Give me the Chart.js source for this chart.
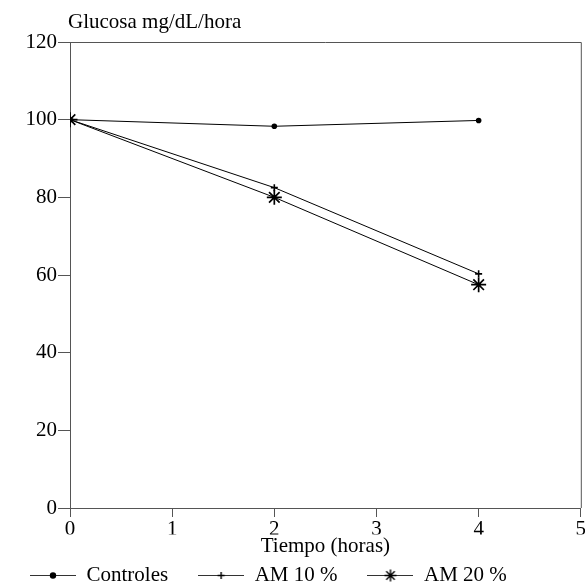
<!DOCTYPE html>
<html lang="es">
<head>
    <meta charset="UTF-8">
    <title>Glucosa mg/dL/hora</title>
    <script src="https://cdn.jsdelivr.net/npm/chart.js"></script>
    <style>
        body, html {
            margin: 0;
            padding: 0;
            width: 585px;
            height: 588px;
            overflow: hidden;
            background: #fff;
        }
        /* slightly wider than the window so the "5" gets cut like in the original */
        #wrap { width: 590px; height: 588px; }
    </style>
</head>
<body>
    <div id="wrap"><canvas id="glucosaChart"></canvas></div>

    <script>
        const horas = [0, 2, 4];
        const controles = [100, 98.3, 99.8];
        const am10 = [100, 82.5, 60.3];
        const am20 = [100, 80, 57.5];
        const seriesNames = ['Controles', 'AM 10 %', 'AM 20 %'];
        const yTitle = 'Glucosa mg/dL/hora';
        const xTitle = 'Tiempo (horas)';

        const FONT = "'Liberation Serif', 'DejaVu Serif', serif";

        // legend symbol: short line with the marker in the middle
        function legendSymbol(style, r) {
            const c = document.createElement('canvas');
            c.width = 46; c.height = 16;
            const g = c.getContext('2d');
            g.strokeStyle = '#333';
            g.fillStyle = '#000';
            g.lineWidth = 1;
            g.beginPath(); g.moveTo(0, 8.5); g.lineTo(46, 8.5); g.stroke();
            g.lineWidth = 1.4;
            g.strokeStyle = '#000';
            Chart.helpers.drawPoint(g, { pointStyle: style, radius: r, borderWidth: 1.4 }, 23, 8.5);
            return c;
        }

        const framePlugin = {
            id: 'frame',
            afterDraw(chart) {
                const { ctx, chartArea: a } = chart;
                ctx.save();
                ctx.strokeStyle = '#555';
                ctx.lineWidth = 1;
                ctx.beginPath();
                ctx.moveTo(a.left, a.top + 0.5);
                ctx.lineTo(a.right + 0.5, a.top + 0.5);
                ctx.lineTo(a.right + 0.5, a.bottom);
                ctx.stroke();
                ctx.fillStyle = '#000';
                ctx.font = '21px ' + FONT;
                ctx.textBaseline = 'alphabetic';
                ctx.fillText(yTitle, a.left - 2, a.top - 14);
                ctx.restore();
            }
        };

        const lineStyle = { borderColor: '#000', backgroundColor: '#000', borderWidth: 1, tension: 0 };

        const ctx = document.getElementById('glucosaChart').getContext('2d');
        new Chart(ctx, {
            type: 'line',
            data: {
                datasets: [
                    { label: seriesNames[0], data: horas.map((h, i) => ({ x: h, y: controles[i] })), ...lineStyle,
                      pointStyle: 'circle', pointRadius: 2.8, pointBorderWidth: 0, legendImg: legendSymbol('circle', 2.5) },
                    { label: seriesNames[1], data: horas.map((h, i) => ({ x: h, y: am10[i] })), ...lineStyle,
                      pointStyle: 'cross', pointRadius: 3.5, pointBorderWidth: 1.6, legendImg: legendSymbol('cross', 3.5) },
                    { label: seriesNames[2], data: horas.map((h, i) => ({ x: h, y: am20[i] })), ...lineStyle,
                      pointStyle: 'star', pointRadius: 7.5, pointBorderWidth: 1.7, legendImg: legendSymbol('star', 6) }
                ]
            },
            options: {
                responsive: true,
                maintainAspectRatio: false,
                animation: false,
                layout: { padding: { top: 42, left: 0, right: 0, bottom: 0 } },
                scales: {
                    x: {
                        type: 'linear',
                        min: 0, max: 5,
                        afterFit: (scale) => { scale.height = 26.5; },
                        ticks: { stepSize: 1, color: '#000', font: { family: FONT, size: 21 }, padding: 0 },
                        grid: { drawOnChartArea: false, tickLength: 9, color: '#555' },
                        border: { color: '#555' },
                        title: { display: true, text: xTitle, color: '#000', font: { family: FONT, size: 21 }, padding: { top: 0, bottom: -24.5 } }
                    },
                    y: {
                        min: 0, max: 120,
                        afterFit: (scale) => { scale.width = 70; },
                        ticks: { stepSize: 20, color: '#000', font: { family: FONT, size: 21 }, padding: 1 },
                        grid: { drawOnChartArea: false, tickLength: 12, color: '#555' },
                        border: { color: '#555' }
                    }
                },
                plugins: {
                    legend: {
                        position: 'bottom',
                        align: 'start',
                        maxHeight: 53.5,
                        labels: {
                            usePointStyle: true,
                            pointStyleWidth: 46,
                            color: '#000',
                            font: { family: FONT, size: 21 },
                            padding: 30,
                            generateLabels: (chart) => chart.data.datasets.map((ds, i) => ({
                                text: ds.label,
                                pointStyle: ds.legendImg,
                                fillStyle: '#000',
                                strokeStyle: '#000',
                                lineWidth: 0,
                                datasetIndex: i,
                                fontColor: '#000'
                            }))
                        }
                    },
                    tooltip: { enabled: false }
                }
            },
            plugins: [framePlugin]
        });
    </script>
</body>
</html>
